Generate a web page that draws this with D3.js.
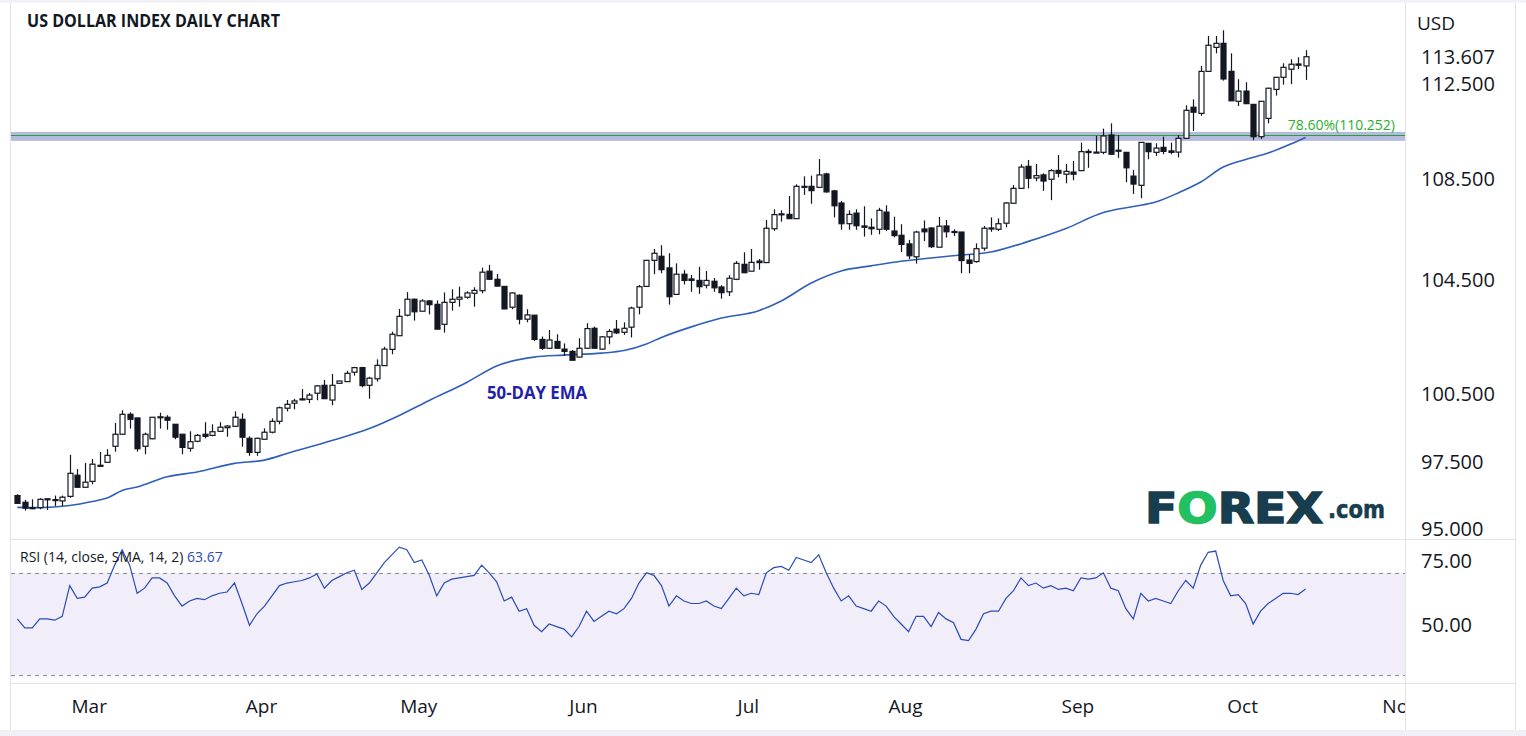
<!DOCTYPE html>
<html>
<head>
<meta charset="utf-8">
<script src="https://cdn.jsdelivr.net/npm/d3@7"></script>
<style>
body { margin: 0; background: #fff; }
text { font-family: "Open Sans", sans-serif; fill: #131722; }
</style>
</head>
<body>
<div class="drawingArea"></div>
<script>
var width = 1526;
var height = 736;

// daily candles, one per weekday starting 15 Feb 2022
var open  = [96.21,95.96,95.76,95.76,96.09,96.03,96.01,96.18,96.97,96.52,96.74,97.31,97.45,98.15,98.68,99.56,99.40,98.15,98.48,99.42,
             99.43,99.12,98.68,98.06,98.37,98.68,98.63,98.81,98.97,99.03,99.34,98.50,97.88,98.46,98.77,99.25,99.83,100.05,100.24,100.22,
             100.49,100.77,100.19,100.84,100.90,101.23,101.39,100.77,101.00,101.46,102.03,102.51,103.23,103.79,103.37,103.73,103.61,102.91,103.68,103.79,
             103.86,104.00,104.09,104.81,104.49,104.24,103.51,103.93,103.09,103.23,102.38,102.07,102.31,102.04,101.96,101.76,102.07,102.77,102.04,102.47,
             102.74,102.63,102.81,103.51,104.24,105.24,105.40,104.94,103.96,104.69,104.50,104.45,104.28,104.42,104.22,104.05,104.49,105.08,104.81,105.21,
             105.15,106.49,107.06,107.06,106.89,108.14,108.17,108.13,108.67,107.99,107.51,106.69,107.11,106.60,106.55,106.47,107.15,106.40,106.23,105.89,
             105.38,106.48,106.52,105.76,106.60,106.38,106.36,105.25,105.19,105.72,106.52,106.47,106.71,107.50,108.09,108.99,108.50,108.63,108.45,108.82,
             108.66,108.75,108.81,109.62,109.58,109.58,110.31,109.67,109.58,108.58,108.21,109.96,109.58,109.79,109.64,109.59,110.17,111.48,111.22,112.99,
             114.00,114.17,112.99,111.73,112.16,111.60,110.24,111.01,112.23,112.74,113.08,113.30,113.22];
var high  = [96.26,96.05,96.07,96.11,96.09,96.21,96.21,97.77,97.20,97.43,97.59,97.90,98.02,99.18,99.74,99.65,99.40,98.75,99.43,99.63,
             99.52,99.12,98.68,98.81,98.69,99.21,99.12,99.21,99.08,99.69,99.60,98.59,98.53,98.94,99.38,99.90,100.19,100.24,100.64,100.50,
             100.78,100.96,101.17,100.93,101.28,101.42,101.42,101.07,101.68,102.12,102.65,103.45,104.04,103.81,103.79,103.76,103.75,104.03,104.14,104.23,
             104.07,104.21,104.95,105.06,104.70,104.24,104.03,103.96,103.44,103.23,102.48,102.71,102.56,102.24,102.01,102.42,102.95,102.83,102.50,102.74,
             103.06,102.98,103.53,104.29,105.24,105.69,105.84,105.52,105.12,104.85,104.66,104.98,104.82,104.54,104.28,104.65,105.21,105.56,105.69,105.29,
             106.84,107.26,107.22,107.79,108.25,108.57,108.60,109.30,108.72,108.03,107.59,107.22,107.26,107.38,106.90,107.32,107.42,106.97,106.67,106.05,
             106.41,106.82,106.55,106.96,106.84,106.47,106.36,105.48,105.91,106.60,106.94,106.90,107.55,108.22,109.08,109.26,109.09,108.70,108.87,109.47,
             109.09,109.22,109.99,109.71,110.28,110.58,110.80,110.31,109.58,108.84,110.00,109.96,109.96,110.24,109.99,110.31,111.56,111.81,113.22,114.48,
             114.48,114.72,113.75,112.66,112.53,111.60,111.73,112.30,112.74,113.33,113.50,113.58,113.88];
var low   = [95.90,95.65,95.70,95.70,95.67,95.82,95.82,96.13,96.52,96.52,96.63,97.29,97.45,97.91,98.68,98.93,97.91,97.80,98.46,98.93,
             98.88,98.46,97.80,97.91,98.33,98.50,98.59,98.81,98.57,99.03,98.13,97.73,97.73,98.46,98.72,99.12,99.69,99.78,100.18,100.05,
             100.18,100.25,99.96,100.84,100.90,101.11,100.70,100.25,100.90,101.46,101.86,102.51,103.19,103.04,103.37,103.26,102.74,102.62,103.39,103.53,
             103.81,103.53,104.00,104.49,104.25,103.45,103.44,102.91,102.98,102.32,102.01,102.07,102.07,101.80,101.65,101.76,102.07,102.07,102.01,102.21,
             102.57,102.54,102.45,103.26,104.24,104.69,104.73,103.60,103.96,104.31,104.05,103.98,104.17,104.05,103.81,103.90,104.46,104.73,104.81,104.87,
             105.15,106.41,106.77,106.89,106.89,107.83,107.48,108.13,107.92,106.94,106.45,106.45,106.45,106.18,106.25,106.27,106.41,106.15,105.57,105.29,
             105.11,106.00,105.73,105.76,106.14,106.20,104.73,104.73,105.15,105.62,106.37,106.40,106.55,107.50,108.09,108.09,108.37,107.99,107.62,108.53,
             108.29,108.41,108.79,108.93,109.58,109.50,109.50,109.35,108.33,107.87,107.70,109.29,109.43,109.50,109.50,109.37,110.17,110.48,111.12,112.99,
             113.75,112.60,111.75,111.53,111.63,110.09,110.14,110.80,111.97,112.43,112.45,113.08,112.63];
var close = [95.92,95.74,95.72,96.07,96.07,96.06,96.15,97.04,96.52,96.71,97.38,97.34,97.75,98.68,99.56,99.34,98.04,98.68,99.43,99.45,
             99.30,98.55,98.10,98.35,98.63,98.59,98.79,98.99,99.04,99.43,98.55,97.88,98.50,98.77,99.25,99.85,100.00,100.15,100.21,100.41,
             100.75,100.25,100.77,100.92,101.19,101.39,100.76,101.02,101.47,102.04,102.56,103.19,103.79,103.35,103.73,103.60,102.74,103.68,103.79,103.86,
             104.01,104.10,104.77,104.49,104.25,103.45,104.01,103.09,103.24,102.38,102.07,102.36,102.07,101.96,101.65,102.07,102.76,102.07,102.47,102.66,
             102.61,102.77,103.48,104.23,105.24,105.52,104.87,103.88,104.69,104.45,104.45,104.23,104.45,104.19,104.02,104.53,105.12,104.75,105.16,105.15,
             106.51,107.05,107.08,106.89,108.17,108.17,108.00,108.63,107.95,107.40,106.69,107.06,106.61,106.55,106.49,107.22,106.47,106.22,105.87,105.42,
             106.36,106.37,105.78,106.59,106.37,106.36,105.23,105.12,105.70,106.51,106.50,106.69,107.51,108.09,108.96,108.49,108.60,108.38,108.81,108.70,
             108.78,108.66,109.61,109.57,109.59,110.27,109.50,109.66,108.93,108.26,110.00,109.61,109.76,109.62,109.58,110.17,111.35,111.27,112.99,114.09,
             114.17,112.67,111.75,112.16,111.63,110.24,111.73,112.28,112.74,113.16,113.29,113.25,113.607];

// 50-day EMA, read at these candle positions
var emaIdx = [0,3,7,10,12,14,16,20,24,29,33,36,42,47,51,55,60,64,69,73,78,81,84,86,90,94,99,102,106,110,114,118,122,126,130,135,140,145,149,152,155,158,161,164,167,170,172];
var emaVal = [95.77,95.76,95.84,95.99,96.12,96.40,96.53,96.91,97.09,97.41,97.54,97.83,98.40,98.93,99.51,100.17,100.87,101.45,101.76,101.83,101.90,101.99,102.22,102.45,102.82,103.13,103.39,103.73,104.36,104.82,105.02,105.20,105.33,105.45,105.57,105.99,106.50,107.13,107.37,107.55,107.91,108.34,108.96,109.28,109.55,109.93,110.21];

// RSI 14, one per candle
var rsi = [52,48.5,48.5,52,52,51.5,53,65,60,60.5,64,64.5,66,73,79,73,62,64,68,68,
           66,61,57,59,60,59.5,61,62,62.5,66,58,49.5,54,57,61,65,66,66.5,67,68,
           69.5,64,67,68.5,70,71,63.5,66,70,74,77,80,79,74,75,69,61,66,67.5,68,
           68.5,69,73,70,66.5,59,60.5,55,56,49.5,47,50,49,48,45,49,55,51,53,55,
           54,56,60,66,70,69,65,57,61,59,58,58,59,57,56,60,64,61,62,61.5,
           70,72,72.5,71,76,75,74,77,70,64,59,61,57,56,55,59,57,53,50,47,
           53,53,49,54.5,52,50.5,44,43.5,48,54,55,55,60,63,68,65,66,64,65,63.5,
           64,63,68,67.5,68,70,64,63,56,52,62,59,60,59,58,63,67,64,73,78,
           78.5,67,61,61.5,58,50,55,58,60,62,62,61.5,63.67];

var priceTicks = [95, 97.5, 100.5, 104.5, 108.5, 112.5];
var rsiTicks = [50, 75];
var fibLevel = 110.252;
var fibLabel = "78.60%(110.252)";

// weekdays from the first candle on, month labels come from these
var days = [];
for (var d = new Date(2022, 1, 15); d < new Date(2022, 10, 8); d.setDate(d.getDate() + 1)) {
    if (d.getDay() != 0 && d.getDay() != 6) days.push(new Date(d));
}
var monthStarts = [];
for (var i = 1; i < days.length; i++) {
    if (days[i].getMonth() != days[i - 1].getMonth()) monthStarts.push(i);
}

var plotLeft = 11, plotRight = 1405;
var priceTop = 3, priceBottom = 539;
var rsiTop = 540, rsiBottom = 684;

var x = d3.scaleLinear().domain([0, 172]).range([17.3, 17.3 + 172 * 7.49]);
// price axis is not evenly spaced, so the scale goes through every label
var y = d3.scaleLinear().domain(priceTicks).range([528, 461, 393, 279, 178, 83]);
var ry = d3.scaleLinear().domain(rsiTicks).range([624, 560]);

var svg = d3.select(".drawingArea")
    .append("svg:svg")
    .attr("width", width)
    .attr("height", height);

var defs = svg.append("defs");
defs.append("clipPath").attr("id", "clipPrice")
    .append("rect").attr("x", plotLeft).attr("y", priceTop).attr("width", plotRight - plotLeft).attr("height", priceBottom - priceTop);
defs.append("clipPath").attr("id", "clipRsi")
    .append("rect").attr("x", plotLeft).attr("y", rsiTop).attr("width", plotRight - plotLeft).attr("height", rsiBottom - rsiTop);
defs.append("clipPath").attr("id", "clipTime")
    .append("rect").attr("x", plotLeft).attr("y", rsiBottom).attr("width", plotRight - plotLeft).attr("height", 50);

//Frame
svg.append("rect").attr("x", 0).attr("y", 0).attr("width", width).attr("height", 2.5).attr("fill", "#f0f0f6");
svg.append("rect").attr("x", 0).attr("y", 730).attr("width", width).attr("height", 6).attr("fill", "#f0f0f6");
var frameColor = "#e0e3eb";
[[10.5, 2, 10.5, 730], [1405.5, 2, 1405.5, 730], [1515.5, 2, 1515.5, 730],
 [11, 539.5, 1515, 539.5], [11, 683.5, 1515, 683.5]].forEach(function(l) {
    svg.append("line").attr("x1", l[0]).attr("y1", l[1]).attr("x2", l[2]).attr("y2", l[3])
        .attr("stroke", frameColor).attr("stroke-width", 1);
});

var price = svg.append("g").attr("clip-path", "url(#clipPrice)");

//Fibonacci level
price.append("rect")
    .attr("x", plotLeft).attr("width", plotRight - plotLeft)
    .attr("y", y(fibLevel) - 4.5).attr("height", 9)
    .attr("fill", "#b7badf");
price.append("line")
    .attr("x1", plotLeft).attr("x2", plotRight)
    .attr("y1", Math.round(y(fibLevel)) - 0.5).attr("y2", Math.round(y(fibLevel)) - 0.5)
    .attr("stroke", "#23a32f").attr("stroke-width", 1);
svg.append("text")
    .attr("x", 1395).attr("y", 130)
    .attr("text-anchor", "end")
    .style("font-size", "14px")
    .style("fill", "#28b02e")
    .text(fibLabel);

//EMA
var emaPts = emaIdx.map(function(d, i) { return [d, emaVal[i]]; });
price.append("path")
    .datum(emaPts)
    .attr("fill", "none")
    .attr("stroke", "#2f5fba")
    .attr("stroke-width", 1.6)
    .attr("d", d3.line()
        .x(function(d) { return x(d[0]); })
        .y(function(d) { return y(d[1]); })
        .curve(d3.curveMonotoneX));

//Candles
var candleColor = "#131722";
var bodyWidth = 5;
var candles = price.selectAll("g.candle")
    .data(close)
    .enter()
    .append("g")
    .attr("class", "candle");

candles.append("line")
    .attr("x1", function(d, i) { return Math.round(x(i)) + 0.5; })
    .attr("x2", function(d, i) { return Math.round(x(i)) + 0.5; })
    .attr("y1", function(d, i) { return y(high[i]); })
    .attr("y2", function(d, i) { return y(low[i]); })
    .attr("stroke", candleColor)
    .attr("stroke-width", 1.2);

candles.append("rect")
    .attr("x", function(d, i) { return Math.round(x(i)) + 0.5 - bodyWidth / 2; })
    .attr("y", function(d, i) { return y(Math.max(open[i], d)); })
    .attr("width", bodyWidth)
    .attr("height", function(d, i) { return Math.max(1, Math.abs(y(open[i]) - y(d))); })
    .attr("fill", function(d, i) { return d >= open[i] ? "#ffffff" : candleColor; })
    .attr("stroke", candleColor)
    .attr("stroke-width", 1.2);

svg.append("text")
    .attr("x", 487).attr("y", 399)
    .attr("textLength", 100)
    .attr("lengthAdjust", "spacingAndGlyphs")
    .style("font-size", "18px")
    .style("font-weight", "bold")
    .style("fill", "#1f22a8")
    .text("50-DAY EMA");

//Logo
var logoColor = "#183d4e";
var logo = svg.append("text")
    .attr("x", 1145).attr("y", 523)
    .attr("textLength", 178)
    .attr("lengthAdjust", "spacingAndGlyphs")
    .style("font-family", "'DejaVu Sans', sans-serif")
    .style("font-weight", "bold")
    .style("font-size", "42px")
    .style("stroke-width", 1.5);
logo.append("tspan").style("fill", logoColor).style("stroke", logoColor).text("F");
logo.append("tspan").style("fill", "#22c060").style("stroke", "#22c060").text("O");
logo.append("tspan").style("fill", logoColor).style("stroke", logoColor).text("REX");
svg.append("text")
    .attr("x", 1328).attr("y", 518)
    .attr("textLength", 57)
    .attr("lengthAdjust", "spacingAndGlyphs")
    .style("font-family", "'DejaVu Sans', sans-serif")
    .style("font-weight", "bold")
    .style("font-size", "25px")
    .style("fill", logoColor)
    .style("stroke", logoColor)
    .style("stroke-width", 0.6)
    .text(".com");

//Price axis
svg.append("text").attr("x", 1417).attr("y", 23)
    .attr("dominant-baseline", "central")
    .style("font-size", "19px").text("USD");
svg.selectAll("text.ptick")
    .data(priceTicks.concat([close[close.length - 1]]))
    .enter()
    .append("text")
    .attr("class", "ptick")
    .attr("x", 1421)
    .attr("y", function(d) { return y(d); })
    .attr("dominant-baseline", "central")
    .style("font-size", "20px")
    .text(function(d) { return d3.format(".3f")(d); });

//RSI pane
var rsiPane = svg.append("g").attr("clip-path", "url(#clipRsi)");
rsiPane.append("rect")
    .attr("x", plotLeft).attr("width", plotRight - plotLeft)
    .attr("y", ry(70)).attr("height", ry(30) - ry(70))
    .attr("fill", "#f1eef9");
[70, 30].forEach(function(v) {
    rsiPane.append("line")
        .attr("x1", plotLeft).attr("x2", plotRight)
        .attr("y1", Math.round(ry(v)) + 0.5).attr("y2", Math.round(ry(v)) + 0.5)
        .attr("stroke", "#8a8d96")
        .attr("stroke-dasharray", "4,4");
});
rsiPane.append("path")
    .datum(rsi)
    .attr("fill", "none")
    .attr("stroke", "#2b4cb5")
    .attr("stroke-width", 1.2)
    .attr("d", d3.line()
        .x(function(d, i) { return x(i); })
        .y(function(d) { return ry(d); }));

var rsiLabel = svg.append("text").attr("x", 20).attr("y", 562).style("font-size", "14px");
rsiLabel.append("tspan").text("RSI (14, close, SMA, 14, 2)");
rsiLabel.append("tspan").attr("x", 187).style("fill", "#2b4cb5").text(d3.format(".2f")(rsi[rsi.length - 1]));

svg.selectAll("text.rtick")
    .data(rsiTicks)
    .enter()
    .append("text")
    .attr("class", "rtick")
    .attr("x", 1421)
    .attr("y", function(d) { return ry(d); })
    .attr("dominant-baseline", "central")
    .style("font-size", "20px")
    .text(function(d) { return d3.format(".2f")(d); });

//Time axis
svg.append("g").attr("clip-path", "url(#clipTime)")
    .selectAll("text")
    .data(monthStarts)
    .enter()
    .append("text")
    .attr("x", function(d) { return x(d) - 3; })
    .attr("y", 706)
    .attr("text-anchor", "middle")
    .attr("dominant-baseline", "central")
    .style("font-size", "19px")
    .text(function(d) { return d3.timeFormat("%b")(days[d]); });

//Title
svg.append("text")
    .attr("x", 27).attr("y", 27)
    .attr("textLength", 253)
    .attr("lengthAdjust", "spacingAndGlyphs")
    .style("font-size", "17px")
    .style("font-weight", "bold")
    .text("US DOLLAR INDEX DAILY CHART");
</script>
</body>
</html>
